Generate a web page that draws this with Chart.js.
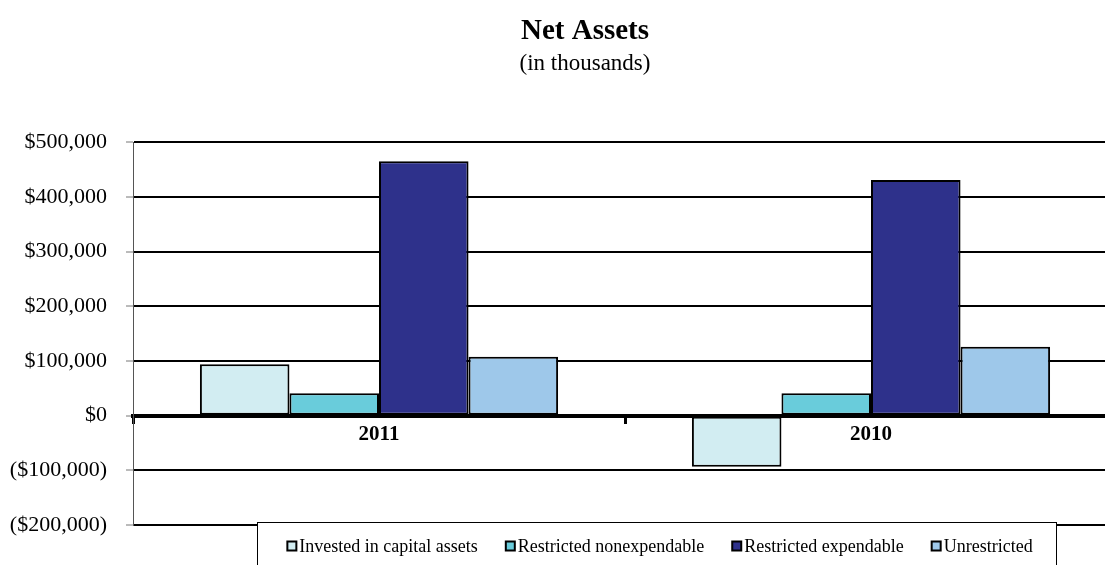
<!DOCTYPE html>
<html>
<head>
<meta charset="utf-8">
<title>Net Assets</title>
<script src="https://cdn.jsdelivr.net/npm/chart.js@4/dist/chart.umd.min.js"></script>
<style>
  html, body { margin: 0; padding: 0; background: #fff; overflow: hidden; }
  #wrap { width: 1170px; height: 565px; }
</style>
</head>
<body>
<div id="wrap"><canvas id="chart" width="1170" height="565"></canvas></div>
<script>
// Fiscal years shown on the category axis
const years = ['2011', '2010'];

// Net asset components, in thousands of dollars
const seriesNames = [
  'Invested in capital assets',
  'Restricted nonexpendable',
  'Restricted expendable',
  'Unrestricted'
];
const investedInCapitalAssets = [94000, -93500];
const restrictedNonexpendable = [41000, 41000];
const restrictedExpendable = [465500, 431000];
const unrestricted = [108000, 126000];

// Value axis range and tick step
const yMin = -200000;
const yMax = 500000;
const yStep = 100000;

const seriesColors = ['#D2EDF2', '#69CCDB', '#2E318B', '#9EC8EA'];
const serif = "'Liberation Serif', 'Times New Roman', serif";

function money(v) {
  const s = '$' + Math.abs(v).toLocaleString('en-US');
  return v < 0 ? '(' + s + ')' : s;
}

// Boxed legend sitting across the bottom edge of the plot
const boxedLegend = {
  id: 'boxedLegend',
  afterDraw(chart) {
    const ctx = chart.ctx;
    const left = 257, top = 522, right = 1056, bottom = 580;
    const midY = 547;
    ctx.save();
    ctx.fillStyle = '#fff';
    ctx.fillRect(left, top, right - left, bottom - top);
    ctx.strokeStyle = '#000';
    ctx.lineWidth = 1;
    ctx.strokeRect(left + 0.5, top + 0.5, right - left, bottom - top);

    ctx.font = '18px ' + serif;
    ctx.textBaseline = 'middle';
    ctx.textAlign = 'left';
    const gap = 28, box = 9, textOff = 12;
    const ds = chart.data.datasets;
    const widths = ds.map(d => ctx.measureText(d.label).width);
    const total = widths.reduce((a, w) => a + textOff + w, 0) + gap * (ds.length - 1);
    let x = 660 - total / 2;
    ds.forEach((d, i) => {
      ctx.fillStyle = d.backgroundColor;
      ctx.fillRect(x, midY - box / 2 - 1, box, box);
      ctx.lineWidth = 2;
      ctx.strokeStyle = '#000';
      ctx.strokeRect(x, midY - box / 2 - 1, box, box);
      ctx.fillStyle = '#000';
      ctx.fillText(d.label, x + textOff, midY);
      x += textOff + widths[i] + gap;
    });
    ctx.restore();
  }
};

const values = [investedInCapitalAssets, restrictedNonexpendable, restrictedExpendable, unrestricted];

new Chart(document.getElementById('chart'), {
  type: 'bar',
  data: {
    labels: years,
    datasets: values.map((arr, i) => ({
      label: seriesNames[i],
      data: arr,
      backgroundColor: seriesColors[i],
      borderColor: '#000',
      borderWidth: 2,
      borderSkipped: false,
      barPercentage: 1,
      categoryPercentage: 0.728
    }))
  },
  options: {
    responsive: false,
    animation: false,
    layout: { padding: { top: 14, right: 0, bottom: 40, left: 0 } },
    plugins: {
      legend: { display: false },
      tooltip: { enabled: false },
      title: {
        display: true,
        text: 'Net Assets',
        color: '#000',
        font: { family: serif, size: 29, weight: 'bold', lineHeight: 1.2 },
        padding: { top: 0, bottom: 1 }
      },
      subtitle: {
        display: true,
        text: '(in thousands)',
        color: '#000',
        font: { family: serif, size: 23, weight: 'normal', lineHeight: 1.2 },
        padding: { top: 0, bottom: 65 }
      }
    },
    scales: {
      x: {
        position: { y: 0 },
        offset: true,
        afterFit(scale) { scale.height = 0; },
        grid: {
          display: true,
          drawOnChartArea: false,
          drawTicks: true,
          tickLength: 6,
          tickWidth: 3,
          tickColor: '#000',
          offset: true
        },
        border: { display: true, color: '#000', width: 4 },
        ticks: {
          color: '#000',
          padding: 0,
          maxRotation: 0,
          font: { family: serif, size: 21, weight: 'bold' }
        }
      },
      y: {
        min: yMin,
        max: yMax,
        afterFit(scale) { scale.width = 133; },
        grid: {
          color: '#000',
          lineWidth: 2,
          drawTicks: true,
          tickLength: 7,
          tickColor: '#777',
          tickWidth: 1
        },
        border: { display: true, color: '#555', width: 1 },
        ticks: {
          stepSize: yStep,
          color: '#000',
          padding: 19,
          font: { family: serif, size: 22 },
          callback: v => money(v)
        }
      },
      // empty right-hand margin so the plot stops short of the canvas edge
      ySpacer: {
        type: 'linear',
        position: 'right',
        afterFit(scale) { scale.width = 53; },
        grid: { display: false },
        border: { display: false },
        ticks: { display: false }
      }
    }
  },
  plugins: [boxedLegend]
});
</script>
</body>
</html>
